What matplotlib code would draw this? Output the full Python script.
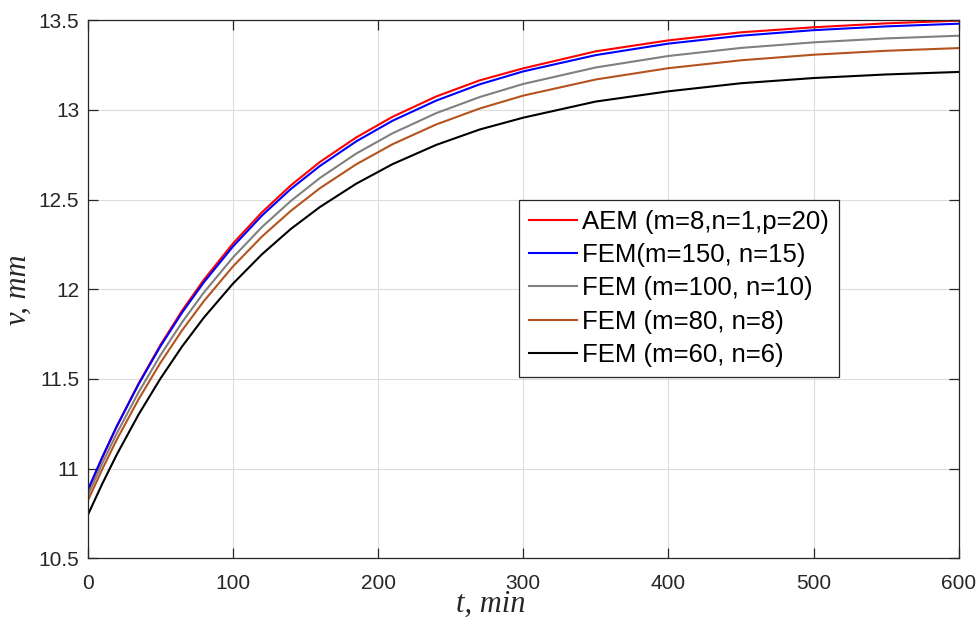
import matplotlib
matplotlib.use("Agg")
import matplotlib.pyplot as plt

# time (min)
t = [0, 10, 20, 35, 50, 65, 80, 100, 120, 140, 160, 185, 210, 240, 270, 300,
     350, 400, 450, 500, 550, 600]

aem_8_1_20 = [10.870, 11.059, 11.234, 11.474, 11.688, 11.881, 12.053, 12.255, 12.429,
              12.580, 12.710, 12.847, 12.962, 13.075, 13.165, 13.232, 13.327, 13.388,
              13.433, 13.461, 13.483, 13.498]
fem_150_15 = [10.880, 11.064, 11.236, 11.470, 11.681, 11.870, 12.039, 12.238, 12.411,
              12.560, 12.688, 12.825, 12.940, 13.052, 13.143, 13.215, 13.306, 13.370,
              13.414, 13.445, 13.466, 13.481]
fem_100_10 = [10.850, 11.029, 11.196, 11.425, 11.631, 11.816, 11.982, 12.177, 12.347,
              12.493, 12.621, 12.757, 12.870, 12.982, 13.072, 13.145, 13.237, 13.301,
              13.346, 13.377, 13.399, 13.414]
fem_80_8 = [10.820, 10.996, 11.161, 11.386, 11.589, 11.771, 11.934, 12.127, 12.294,
            12.438, 12.564, 12.697, 12.809, 12.919, 13.008, 13.080, 13.170, 13.233,
            13.277, 13.308, 13.330, 13.345]
fem_60_6 = [10.740, 10.915, 11.078, 11.301, 11.501, 11.681, 11.842, 12.031, 12.195,
            12.337, 12.459, 12.589, 12.698, 12.805, 12.891, 12.957, 13.047, 13.104,
            13.149, 13.178, 13.198, 13.212]

labels = ["AEM (m=8,n=1,p=20)", "FEM(m=150, n=15)", "FEM (m=100, n=10)",
          "FEM (m=80, n=8)", "FEM (m=60, n=6)"]
series = [aem_8_1_20, fem_150_15, fem_100_10, fem_80_8, fem_60_6]
colors = ["#FF0000", "#0000FF", "#808080", "#B4531E", "#000000"]

xticks = [0, 100, 200, 300, 400, 500, 600]
yticks = [10.5, 11, 11.5, 12, 12.5, 13, 13.5]
ytick_labels = ["10.5", "11", "11.5", "12", "12.5", "13", "13.5"]

plt.rcParams['font.family'] = ['Liberation Sans', 'DejaVu Sans']

W, H = 977, 627
fig = plt.figure(figsize=(W / 100, H / 100), dpi=100)
x0, x1, ytop, ybot = 87.7, 958.7, 20.3, 558.3
ax = fig.add_axes([x0 / W, 1 - ybot / H, (x1 - x0) / W, (ybot - ytop) / H])

for y, lab, c in zip(series, labels, colors):
    ax.plot(t, y, color=c, lw=1.5, label=lab)

ax.set_xlim(0, 600)
ax.set_ylim(10.5, 13.5)
ax.set_xticks(xticks)
ax.set_yticks(yticks)
ax.set_xticklabels([str(v) for v in xticks])
ax.set_yticklabels(ytick_labels)

dark = "#262626"
ax.grid(True, color="#dcdcdc", lw=0.8)
ax.set_axisbelow(True)
for s in ax.spines.values():
    s.set_color(dark)
    s.set_linewidth(0.9)
ax.tick_params(direction='in', length=7, width=0.9, top=True, right=True,
               labelsize=15, colors=dark)
ax.tick_params(axis='x', pad=11)
ax.tick_params(axis='y', pad=6)

serif = ['Liberation Serif', 'DejaVu Serif']
ax.set_xlabel("t, min", family=serif, style='italic', fontsize=22, color=dark)
ax.set_ylabel("v, mm", family=serif, style='italic', fontsize=22, color=dark)
ax.xaxis.set_label_coords(0.463, -0.058)
ax.yaxis.set_label_coords(-0.063, 0.5)

leg = ax.legend(loc='upper left',
                bbox_to_anchor=((518.5 - x0) / (x1 - x0), (ybot - 199.5) / (ybot - ytop)),
                fontsize=18.5, frameon=True, fancybox=False, framealpha=1,
                edgecolor=dark, handlelength=1.87, handletextpad=0.2,
                labelspacing=0.36, borderpad=0.4, borderaxespad=0)
leg.get_frame().set_linewidth(0.9)

fig.savefig("out.png", dpi=100)
